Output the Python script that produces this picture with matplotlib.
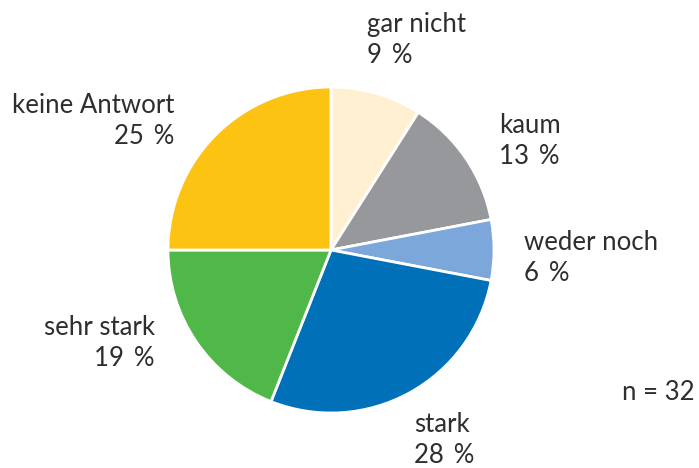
import matplotlib
matplotlib.use("Agg")
import matplotlib.pyplot as plt

categories = ["gar nicht", "kaum", "weder noch", "stark", "sehr stark", "keine Antwort"]
values = [9, 13, 6, 28, 19, 25]
colors = ["#FFF0D2", "#96989C", "#7BA7DA", "#0070B9", "#50B848", "#FDC312"]
n_total = 32

W, H = 699, 468
fig = plt.figure(figsize=(W / 100, H / 100), dpi=100)
ax = fig.add_axes([0, 0, 1, 1])

cx, cy, r = 331, H - 250, 163
ax.pie(values, colors=colors, startangle=90, counterclock=False,
       center=(cx, cy), radius=r, frame=True,
       wedgeprops=dict(edgecolor="white", linewidth=2))
ax.set_xlim(0, W)
ax.set_ylim(0, H)
ax.set_aspect("equal")
ax.axis("off")

fam = ['Lato', 'DejaVu Sans']
fs = 18.5
tc = "#2e2e2e"
# label layout: (x, y_center, ha)
layout = [(367, 40, "left"), (499, 141, "left"), (524, 258, "left"),
          (414, 440, "left"), (155, 343, "right"), (174, 121, "right")]
for cat, v, (x, y, ha) in zip(categories, values, layout):
    ax.text(x, H - y, f"{cat}\n{v}\u2009 %", ha=ha, va="center", multialignment=ha,
            fontsize=fs, color=tc, linespacing=1.3, family=fam, fontweight="normal")

ax.text(622, H - 393, f"n = {n_total}", ha="left", va="center", fontsize=fs,
        color=tc, family=fam, fontweight="normal")

fig.savefig("out.png", dpi=100)
